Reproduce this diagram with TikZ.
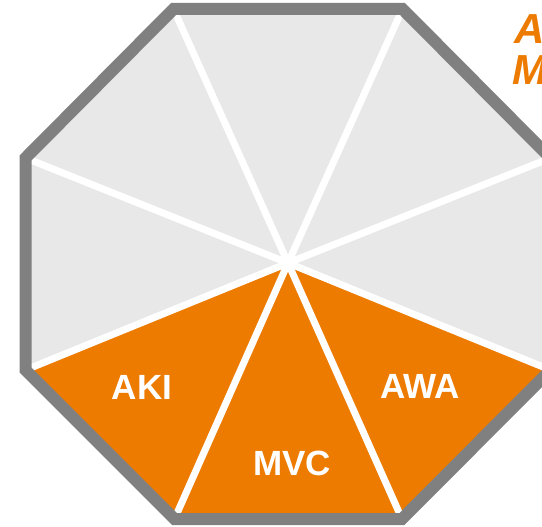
\documentclass[tikz,border=0pt]{standalone}
\usepackage{fontspec}
\setmainfont{Liberation Sans}
\definecolor{octgray}{RGB}{128,128,128}
\definecolor{octfill}{RGB}{232,232,232}
\definecolor{octorange}{RGB}{236,123,0}
\tikzset{
  wedge/.style={fill=octorange},
  spoke/.style={draw=white,line width=7pt},
  rim/.style={draw=octgray,line width=12pt,line join=miter},
  seglabel/.style={text=white,font=\fontsize{35}{35}\selectfont\bfseries,inner sep=0pt},
  titletext/.style={text=octorange,font=\fontsize{42}{42}\selectfont\bfseries\itshape,inner sep=0pt,anchor=base west}
}
\begin{document}
\begin{tikzpicture}[x=1pt,y=-1pt]
\useasboundingbox (0,0) rectangle (542,527);
\coordinate (c) at (288,263);
\coordinate (v1) at (173.5,9);
\coordinate (v2) at (402.5,9);
\coordinate (v3) at (550.5,158);
\coordinate (v4) at (550.5,370);
\coordinate (v5) at (402,519);
\coordinate (v6) at (174.5,519);
\coordinate (v7) at (25.5,370);
\coordinate (v8) at (25.5,158);
\fill[octfill] (v1)--(v2)--(v3)--(v4)--(v5)--(v6)--(v7)--(v8)--cycle;
\fill[wedge] (c)--(v7)--(v6)--cycle;
\fill[wedge] (c)--(v6)--(v5)--cycle;
\fill[wedge] (c)--(v5)--(v4)--cycle;
\foreach \v in {v1,v2,v3,v4,v5,v6,v7,v8} \draw[spoke] (c)--(\v);
\draw[rim] (v1)--(v2)--(v3)--(v4)--(v5)--(v6)--(v7)--(v8)--cycle;
\node[seglabel] (aki) at (142,387) {AKI};
\node[seglabel] (mvc) at (292,463) {MVC};
\node[seglabel] (awa) at (420,386) {AWA};
\node[titletext] (t1) at (514,44) {A};
\node[titletext] (t2) at (512,85) {M};
\end{tikzpicture}
\end{document}
